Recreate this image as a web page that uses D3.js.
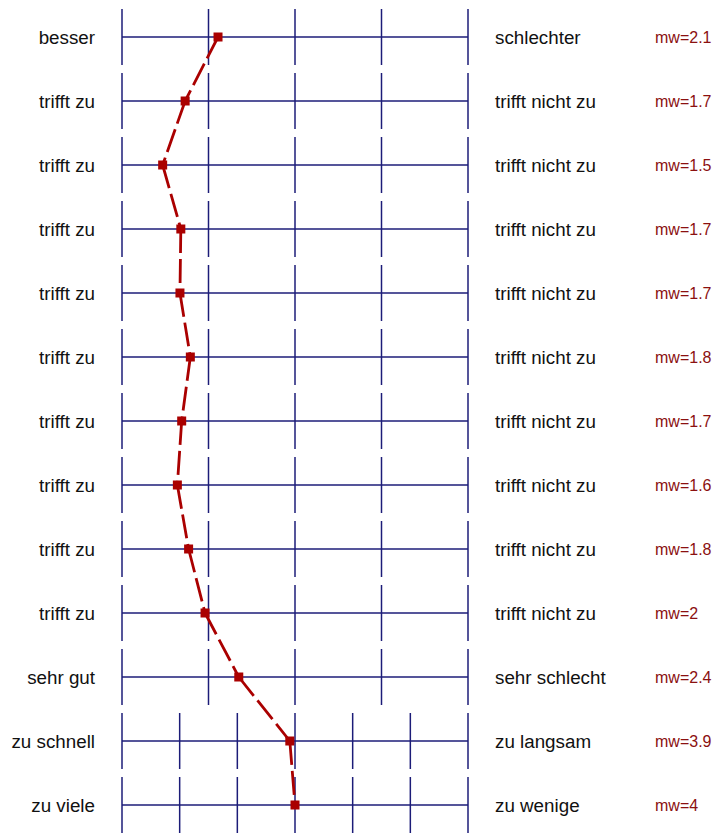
<!DOCTYPE html>
<html><head><meta charset="utf-8">
<script src="https://cdn.jsdelivr.net/npm/d3@7"></script>
<style>body{margin:0;background:#fff}svg{display:block}</style>
</head><body>
<script>
const leftLabels = ["besser","trifft zu","trifft zu","trifft zu","trifft zu","trifft zu","trifft zu","trifft zu","trifft zu","trifft zu","sehr gut","zu schnell","zu viele"];
const rightLabels = ["schlechter","trifft nicht zu","trifft nicht zu","trifft nicht zu","trifft nicht zu","trifft nicht zu","trifft nicht zu","trifft nicht zu","trifft nicht zu","trifft nicht zu","sehr schlecht","zu langsam","zu wenige"];
const means = [2.11,1.73,1.47,1.68,1.67,1.79,1.69,1.64,1.77,1.96,2.35,3.91,4.0];
const meanLabels = ["mw=2.1","mw=1.7","mw=1.5","mw=1.7","mw=1.7","mw=1.8","mw=1.7","mw=1.6","mw=1.8","mw=2","mw=2.4","mw=3.9","mw=4"];
const scalePoints = [5,5,5,5,5,5,5,5,5,5,5,7,7];

const W = 728, H = 834;
const svg = d3.select("body").append("svg").attr("width", W).attr("height", H);
const font = "'Liberation Sans', Arial, sans-serif";
const gridColor = "#1c1c78", red = "#aa0000", mwColor = "#8b1010";

const y = d3.scaleBand().domain(d3.range(leftLabels.length)).range([5, 837]).paddingInner(0.125).paddingOuter(0.0625);
const cy = i => y(i) + y.bandwidth() / 2;
const xs = scalePoints.map(n => d3.scaleLinear().domain([1, n]).range([122, 468]));

const rows = svg.append("g").selectAll("g").data(leftLabels).join("g");
rows.each(function(d, i) {
  const g = d3.select(this);
  const x = xs[i];
  const c = cy(i);
  g.append("line").attr("x1", x(1)).attr("x2", x(scalePoints[i])).attr("y1", c).attr("y2", c)
    .attr("stroke", gridColor).attr("stroke-width", 1.5);
  g.selectAll("line.v").data(d3.range(1, scalePoints[i] + 1)).join("line").attr("class", "v")
    .attr("x1", v => x(v)).attr("x2", v => x(v)).attr("y1", y(i)).attr("y2", y(i) + y.bandwidth())
    .attr("stroke", gridColor).attr("stroke-width", 1.5);
  g.append("text").attr("x", 95).attr("y", c + 6.5).attr("text-anchor", "end")
    .attr("font-family", font).attr("font-size", 18.8).attr("fill", "#111").text(leftLabels[i]);
  g.append("text").attr("x", 495).attr("y", c + 6.5)
    .attr("font-family", font).attr("font-size", 18.8).attr("fill", "#111").text(rightLabels[i]);
  g.append("text").attr("x", 655).attr("y", c + 6)
    .attr("font-family", font).attr("font-size", 16).attr("fill", mwColor).text(meanLabels[i]);
});

const pts = means.map((m, i) => [xs[i](m), cy(i)]);
svg.append("g").selectAll("line").data(pts.slice(1)).join("line")
  .attr("x1", (p, i) => pts[i][0]).attr("y1", (p, i) => pts[i][1])
  .attr("x2", p => p[0]).attr("y2", p => p[1])
  .attr("stroke", red).attr("stroke-width", 2.8).attr("stroke-dasharray", "24,6");
svg.append("g").selectAll("rect").data(pts).join("rect")
  .attr("x", p => p[0] - 4.5).attr("y", p => p[1] - 4.5).attr("width", 9).attr("height", 9)
  .attr("fill", red);
</script>
</body></html>
